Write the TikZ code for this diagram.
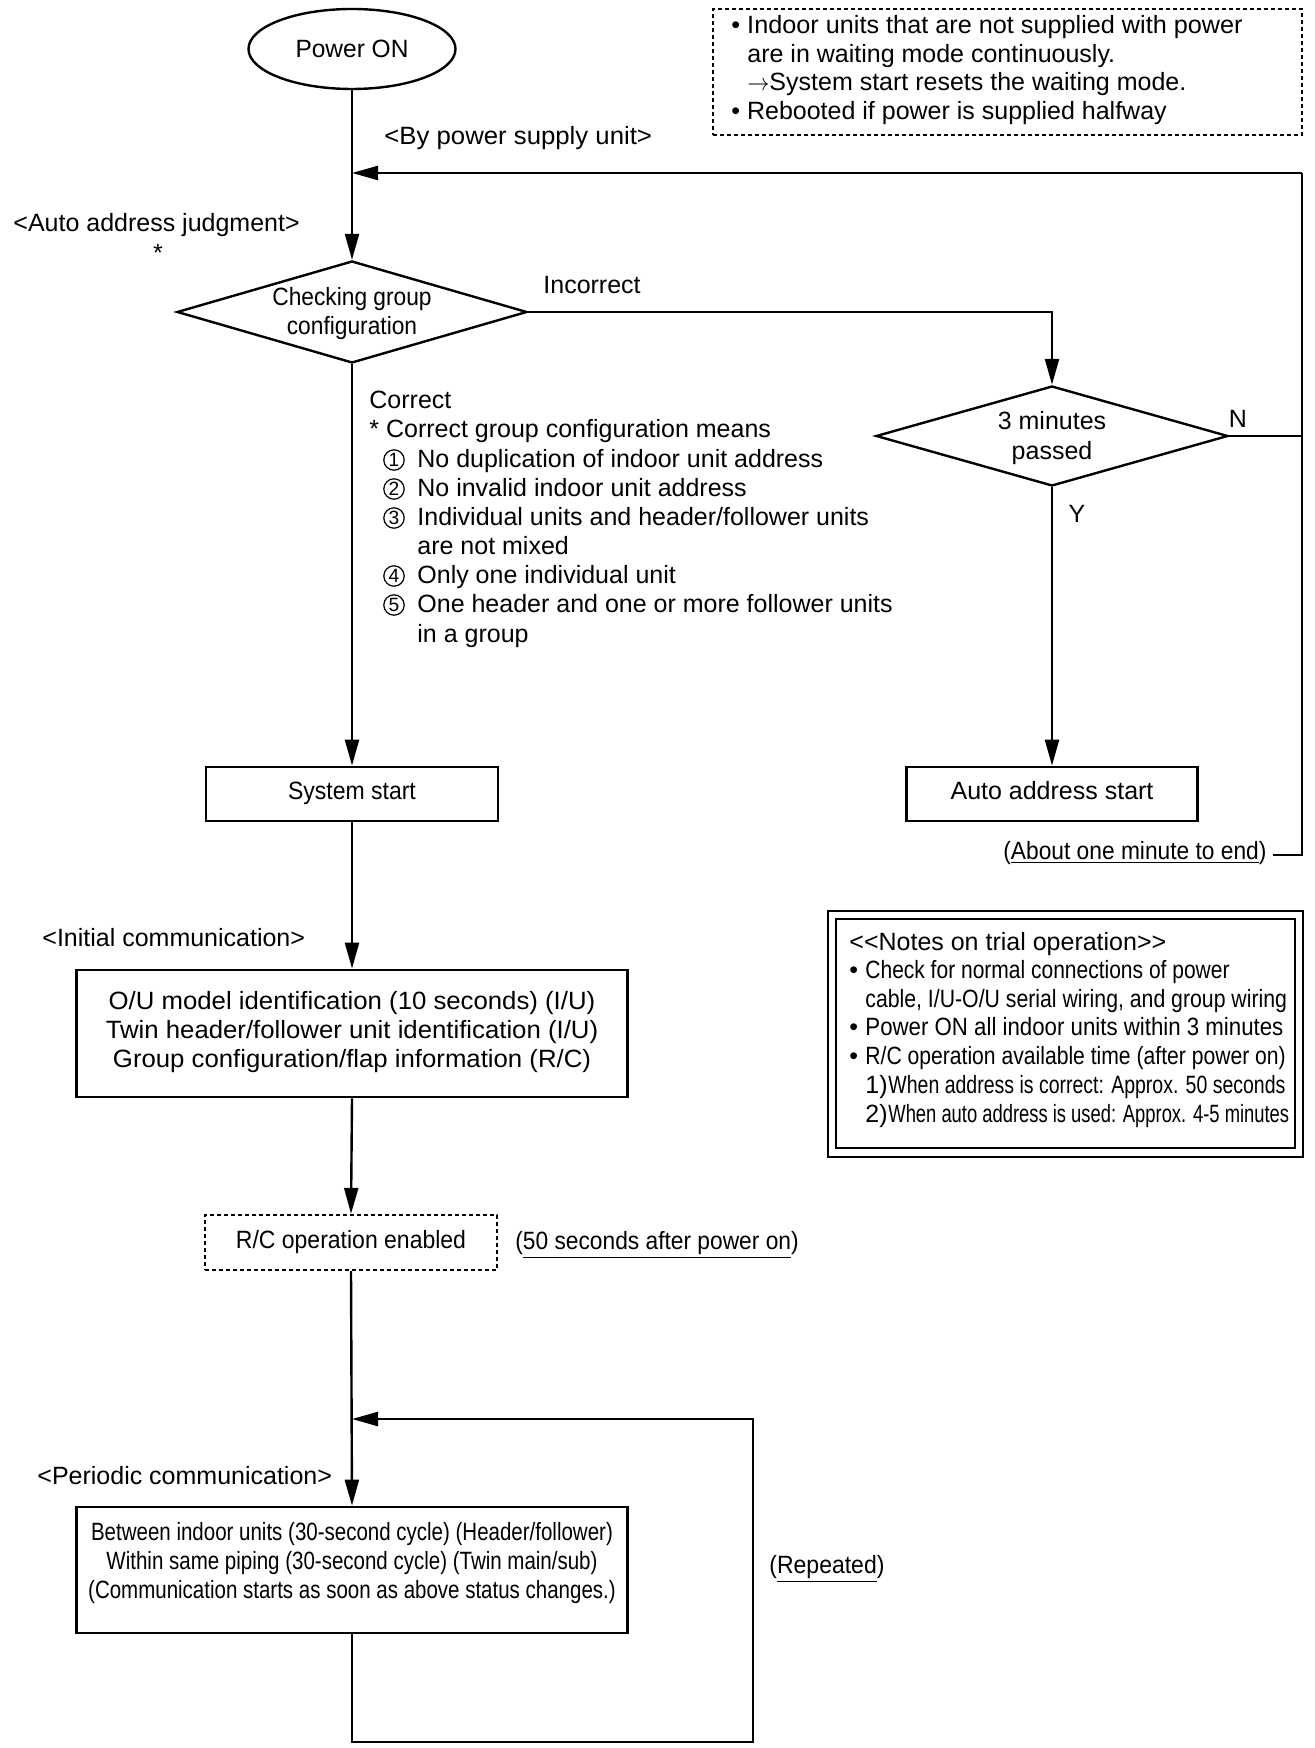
\documentclass[tikz,border=0pt]{standalone}
\usepackage{fontspec}
\usepackage{graphicx}
\setmainfont{Liberation Sans}
\usetikzlibrary{shapes.geometric,arrows.meta}
\newcommand\hx[2]{\scalebox{#1}[1]{#2}}
\newcommand\fs{\fontsize{12.5pt}{14.6pt}\selectfont}
\begin{document}
\begin{tikzpicture}[x=0.5pt,y=-0.5pt,
  every node/.style={font=\fs},
  line/.style={line width=1.2pt},
  arr/.style={line width=1.2pt,-{Triangle[length=13pt,width=7pt]}},
  box/.style={draw,line width=1.4pt,inner sep=0pt,text height=8.5pt,text depth=3pt},
  dbox/.style={draw,line width=1.2pt,dash pattern=on 2pt off 1.5pt,inner sep=0pt,text height=8.5pt,text depth=3pt},
  dec/.style={draw,diamond,line width=1.2pt,inner sep=0pt},
  lt/.style={anchor=west,inner sep=0pt,text height=8.5pt,text depth=0pt},
  ct/.style={inner sep=0pt,text height=8.5pt,text depth=0pt},
  mt/.style={align=center,inner sep=0pt},
  cnum/.style={draw,circle,line width=0.6pt,minimum size=10.2pt,inner sep=0pt,font=\fontsize{9.6pt}{9.6pt}\selectfont},
]
\useasboundingbox (0,0) rectangle (1315,1748);

% ---- top start
\node[draw,ellipse,line width=1.2pt,minimum width=103.5pt,minimum height=40pt,inner sep=0pt] (pon) at (352,49) {\hx{0.98}{Power ON}};

% ---- dotted note box
\node[dbox,minimum width=294.5pt,minimum height=63pt] (nbox) at (1007.5,72) {};
\node[lt] (n1) at (731,25) {\hx{1.01}{• Indoor units that are not supplied with power}};
\node[lt] (n2) at (747,54) {are in waiting mode continuously.};
\node[lt] (n3) at (747,82) {\hx{0.92}{$\rightarrow$}System start resets the waiting mode.};
\node[lt] (n4) at (731,111) {• Rebooted if power is supplied halfway};

\node[lt] (bps) at (384,136) {\hx{1.03}{<By power supply unit>}};
\node[lt] (aaj) at (13,223) {<Auto address judgment>};
\node[ct] (star) at (158,253) {*};

% ---- decisions
\node[dec,minimum width=175pt,minimum height=51pt] (d1) at (352,312) {};
\node[ct] (d1a) at (352,297) {\hx{0.91}{Checking group}};
\node[ct] (d1b) at (352,326) {\hx{0.91}{configuration}};
\node[lt] (inc) at (543,285) {Incorrect};

\node[dec,minimum width=176pt,minimum height=50pt] (d2) at (1052,436) {};
\node[ct] (d2a) at (1052,421) {3 minutes};
\node[ct] (d2b) at (1052,451) {passed};
\node[ct] (nlab) at (1238,419) {N};
\node[ct] (ylab) at (1077,514) {Y};

% ---- correct list
\node[lt] (cor) at (369,400) {Correct};
\node[lt] (cor2) at (369,429) {* Correct group configuration means};
\node[cnum] (c1) at (394,460) {1};
\node[cnum] (c2) at (394,489) {2};
\node[cnum] (c3) at (394,518) {3};
\node[cnum] (c4) at (394,576) {4};
\node[cnum] (c5) at (394,605) {5};
\node[lt] (i1) at (417,459) {No duplication of indoor unit address};
\node[lt] (i2) at (417,488) {No invalid indoor unit address};
\node[lt] (i3) at (417,517) {Individual units and header/follower units};
\node[lt] (i3b) at (417,546) {are not mixed};
\node[lt] (i4) at (417,575) {Only one individual unit};
\node[lt] (i5) at (417,604) {One header and one or more follower units};
\node[lt] (i5b) at (417,634) {in a group};

% ---- boxes
\node[box,minimum width=146pt,minimum height=27pt] (ss) at (352,794) {\hx{0.92}{System start}};
\node[box,minimum width=145.5pt,minimum height=27pt] (aas) at (1052,794) {Auto address start};
\node[lt] (abt) at (1003,851) {\hx{0.91}{(\underline{About one minute to end})}};

\node[lt] (ic) at (42,938) {<Initial communication>};
\node[box,minimum width=275.5pt,minimum height=63.5pt] (b3) at (352,1033.5) {};
\node[mt] (b3t) at (352,1032) {\hx{1.03}{O/U model identification (10 seconds) (I/U)}\\
  \hx{1.03}{Twin header/follower unit identification (I/U)}\\
  \hx{1.03}{Group configuration/flap information (R/C)}};

\node[dbox,minimum width=146pt,minimum height=27.5pt] (rc) at (351,1242.5) {\hx{0.92}{R/C operation enabled}};
\node[lt] (fifty) at (515,1241) {\hx{0.91}{(\underline{50 seconds after power on})}};

\node[lt] (pc) at (37,1476) {<Periodic communication>};
\node[box,minimum width=275.5pt,minimum height=63pt] (b4) at (352,1570) {};
\node[mt] (b4t) at (352,1563) {\hx{0.82}{Between indoor units (30-second cycle) (Header/follower)}\\
  \hx{0.82}{Within same piping (30-second cycle) (Twin main/sub)}\\
  \hx{0.82}{(Communication starts as soon as above status changes.)}};
\node[lt] (rep) at (769,1565) {\hx{0.92}{(\underline{Repeated})}};

% ---- notes on trial operation
\node[draw,line width=1.4pt,minimum width=237.5pt,minimum height=123pt,inner sep=0pt] (nout) at (1065.5,1034) {};
\node[draw,line width=1.4pt,minimum width=229.5pt,minimum height=114.5pt,inner sep=0pt] (nin) at (1065.5,1033.5) {};
\node[lt] (t0) at (849,942) {<{}<Notes on trial operation>{}>};
\node[lt] (t1b) at (849,970) {•};
\node[lt] (t1) at (865,970) {\hx{0.84}{Check for normal connections of power}};
\node[lt] (t2) at (865,999) {\hx{0.85}{cable, I/U-O/U serial wiring, and group wiring}};
\node[lt] (t3b) at (849,1027) {•};
\node[lt] (t3) at (865,1027) {\hx{0.89}{Power ON all indoor units within 3 minutes}};
\node[lt] (t4b) at (849,1056) {•};
\node[lt] (t4) at (865,1056) {\hx{0.845}{R/C operation available time (after power on)}};
\node[lt] (t5a) at (865,1085) {1)};
\node[lt] (t5) at (888,1085) {\hx{0.78}{When address is correct: Approx. 50 seconds}};
\node[lt] (t6a) at (865,1114) {2)};
\node[lt] (t6) at (888,1114) {\hx{0.735}{When auto address is used: Approx. 4-5 minutes}};

% ---- coordinates
\coordinate (rtop) at (1302,173);
\coordinate (rbot) at (1302,855);
\coordinate (j1) at (352,173);
\coordinate (abtend) at (1273,855);
\coordinate (j2) at (352,1419);
\coordinate (l1) at (753,1742);

% ---- connectors
\draw[arr] (pon.south) -- (d1.north);
\draw[arr] (d1.east) -| (d2.north);
\draw[line] (d2.east) -- (d2.east -| rtop);
\draw[line] (abtend) -- (rbot) -- (rtop);
\draw[arr] (rtop) -- (j1);
\draw[arr] (d2.south) -- (aas.north);
\draw[arr] (d1.south) -- (ss.north);
\draw[arr] (ss.south) -- (b3.north);
\draw[arr] (b3.south) -- (rc.north);
\draw[arr] (rc.south) -- (b4.north);
\draw[arr] (b4.south) |- (l1) |- (j2);
\end{tikzpicture}
\end{document}
